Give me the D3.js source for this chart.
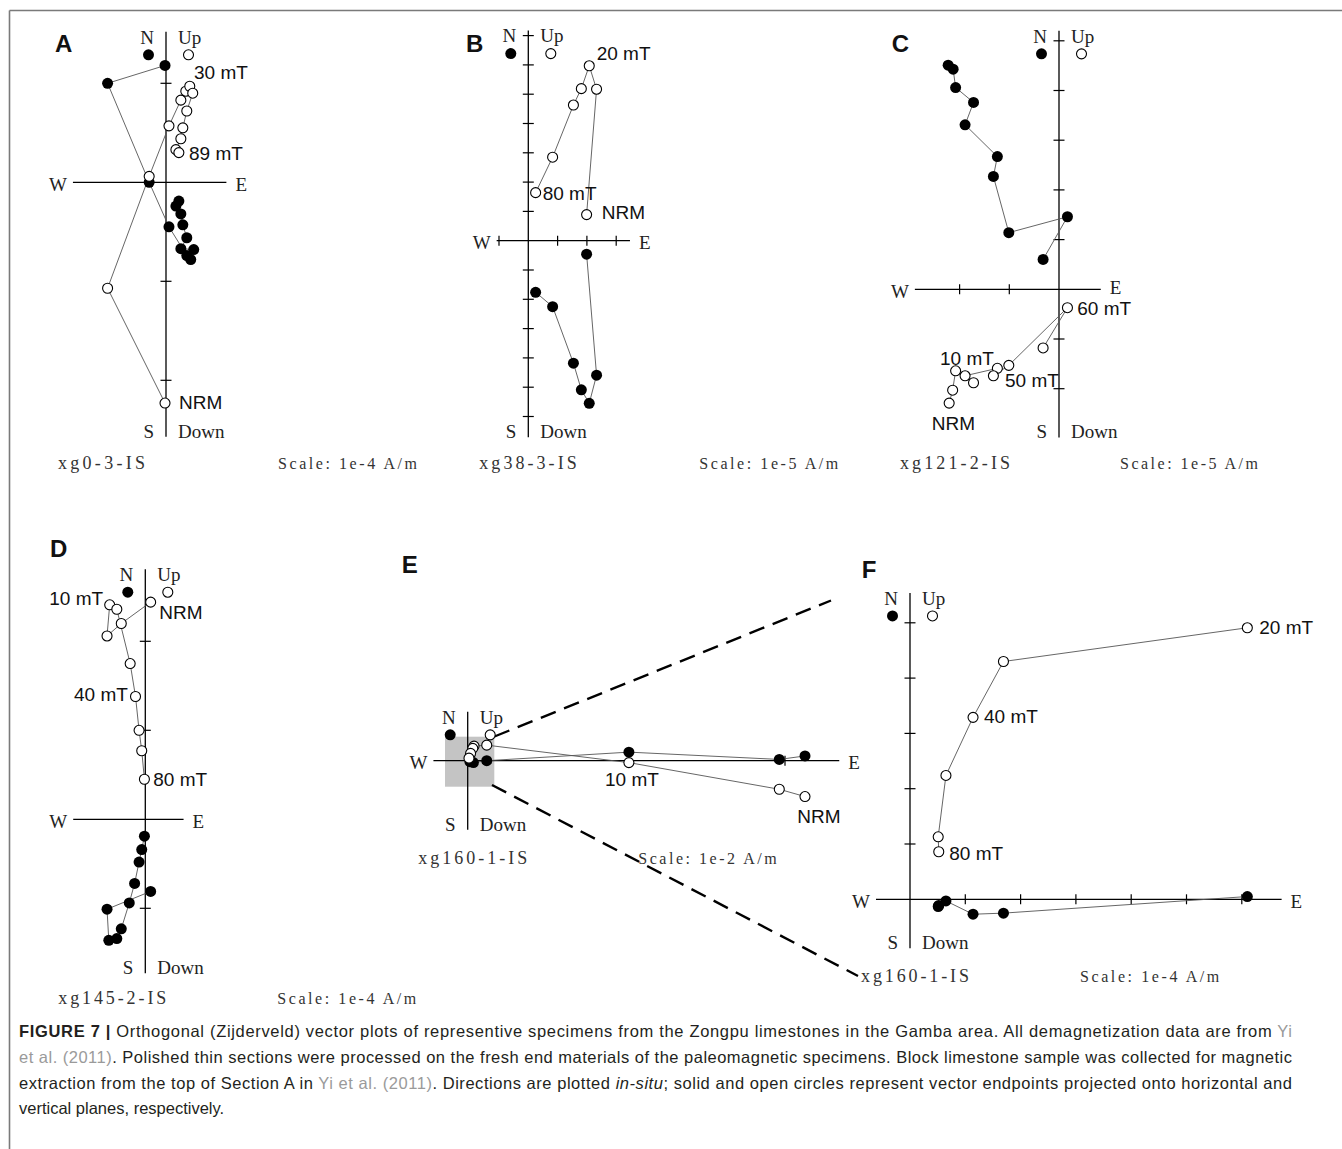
<!DOCTYPE html>
<html>
<head>
<meta charset="utf-8">
<script src="https://cdn.jsdelivr.net/npm/d3@7"></script>
<style>
  body { margin: 0; background: #fff; }
  svg { display: block; }
</style>
</head>
<body>
<svg id="fig" width="1342" height="1149"></svg>
<script>
// values are in units of each specimen's scale bar (one tick)
// hor = [east, north] (solid), ver = [east, up] (open)
const aHor = [[-0.01,1.18],[-0.59,1.00],[-0.17,0.00],[0.03,-0.45],[0.21,-0.74],[0.25,-0.78],[0.28,-0.68],[0.15,-0.67],[0.21,-0.56],[0.17,-0.43],[0.15,-0.32],[0.10,-0.24],[0.13,-0.19]];
const aVer = [[-0.01,-2.23],[-0.59,-1.07],[-0.17,0.06],[0.03,0.57],[0.15,0.83],[0.20,0.92],[0.24,0.97],[0.27,0.90],[0.21,0.72],[0.17,0.55],[0.15,0.44],[0.10,0.33],[0.13,0.30]];

const bHor = [[1.99,-0.46],[2.33,-4.59],[2.08,-5.55],[1.81,-5.09],[1.54,-4.18],[0.83,-2.25],[0.25,-1.76]];
const bVer = [[1.99,0.89],[2.33,5.17],[2.08,5.97],[1.81,5.19],[1.54,4.63],[0.83,2.85],[0.25,1.64]];

const cHor = [[-2.23,4.51],[-2.13,4.43],[-2.08,4.06],[-1.72,3.76],[-1.89,3.31],[-1.24,2.67],[-1.32,2.27],[-1.01,1.14],[0.17,1.46],[-0.32,0.60]];
const cVer = [[-2.21,-2.29],[-2.14,-2.03],[-2.08,-1.64],[-1.72,-1.88],[-1.89,-1.74],[-1.24,-1.59],[-1.32,-1.74],[-1.01,-1.53],[0.17,-0.37],[-0.32,-1.18]];

const dHor = [[-0.01,-0.19],[-0.04,-0.34],[-0.07,-0.48],[-0.12,-0.72],[-0.18,-0.94],[-0.27,-1.23],[-0.32,-1.34],[-0.41,-1.36],[-0.43,-1.01],[0.06,-0.81]];
const dVer = [[0.06,2.44],[-0.27,2.20],[-0.43,2.06],[-0.40,2.41],[-0.32,2.36],[-0.17,1.75],[-0.11,1.38],[-0.07,1.00],[-0.04,0.77],[-0.01,0.45]];

const eHor = [[1.063,0.015],[0.982,0.004],[0.508,0.027],[0.060,0.000],[0.018,-0.006],[0.007,-0.003]];
const eVer = [[1.063,-0.113],[0.982,-0.090],[0.508,-0.006],[0.060,0.049],[0.020,0.046],[0.016,0.039],[0.009,0.023],[0.004,0.008]];

const fHor = [[6.10,0.05],[1.69,-0.25],[1.14,-0.27],[0.65,-0.03],[0.51,-0.13],[0.52,-0.11]];
const fVer = [[6.10,4.91],[1.69,4.30],[1.14,3.29],[0.65,2.24],[0.51,1.13],[0.52,0.86]];

const specimens = ["xg0-3-IS", "xg38-3-IS", "xg121-2-IS", "xg145-2-IS", "xg160-1-IS", "xg160-1-IS"];
const scales = ["Scale: 1e-4 A/m", "Scale: 1e-5 A/m", "Scale: 1e-5 A/m", "Scale: 1e-4 A/m", "Scale: 1e-2 A/m", "Scale: 1e-4 A/m"];

const svg = d3.select("#fig");
const SERIF = "'Liberation Serif', 'DejaVu Serif', serif";
const SANS = "'Liberation Sans', Arial, sans-serif";

// frame
svg.append("line").attr("x1", 9.5).attr("x2", 1342).attr("y1", 10.5).attr("y2", 10.5).attr("stroke", "#7a7a7a").attr("stroke-width", 1.6);
svg.append("line").attr("x1", 9.5).attr("x2", 9.5).attr("y1", 10.5).attr("y2", 1149).attr("stroke", "#7a7a7a").attr("stroke-width", 1.6);

// zoom box + dashed guides between E and F
svg.append("rect").attr("x", 445).attr("y", 736.7).attr("width", 49.3).attr("height", 50).attr("fill", "#c4c4c4");
svg.append("line").attr("x1", 494.5).attr("y1", 736.5).attr("x2", 831).attr("y2", 600.5)
  .attr("stroke", "#000").attr("stroke-width", 2.4).attr("stroke-dasharray", "16,9");
svg.append("line").attr("x1", 492).attr("y1", 785).attr("x2", 858).attr("y2", 976)
  .attr("stroke", "#000").attr("stroke-width", 2.4).attr("stroke-dasharray", "16,9");

const panels = [
  {letter: "A", lx: 55, ly: 51.7, ox: 166, oy: 182.3, unit: 99, xExt: [-0.94, 0.61], yExt: [-2.57, 1.52],
   xTicks: [], yTicks: [1, -1, -2], hor: aHor, ver: aVer, eShift: 0,
   notes: [["30 mT", 194, 71.7], ["89 mT", 189, 153], ["NRM", 179, 401.7]],
   spec: [58, 469, 87], scale: [278, 469, 139]},
  {letter: "B", lx: 466, ly: 51.7, ox: 528.3, oy: 240.7, unit: 29.3, xExt: [-1.08, 3.47], yExt: [-6.71, 7.17],
   xTicks: [-1, 1, 2, 3], yTicks: [7, 6, 5, 4, 3, 2, 1, -1, -2, -3, -4, -5, -6], hor: bHor, ver: bVer, eShift: 0,
   notes: [["20 mT", 596.7, 53.3], ["80 mT", 542.7, 193], ["NRM", 601.7, 211.7]],
   spec: [479.3, 469, 97.4], scale: [699.3, 469, 139]},
  {letter: "C", lx: 891.7, ly: 51.7, ox: 1059, oy: 289.3, unit: 49.7, xExt: [-2.9, 0.84], yExt: [-2.98, 5.2],
   xTicks: [-1, -2], yTicks: [5, 4, 3, 2, 1, -1, -2], hor: cHor, ver: cVer, eShift: -4,
   notes: [["60 mT", 1077.3, 308.5], ["10 mT", 940, 358.3], ["50 mT", 1005, 380], ["NRM", 931.7, 422.7]],
   spec: [900, 469, 110], scale: [1120, 469, 138]},
  {letter: "D", lx: 50, ly: 556.7, ox: 145.3, oy: 819.3, unit: 89, xExt: [-0.81, 0.43], yExt: [-1.73, 2.81],
   xTicks: [], yTicks: [2, 1, -1], hor: dHor, ver: dVer, eShift: 0,
   notes: [["10 mT", 49.3, 598.3], ["NRM", 159.3, 611.7], ["40 mT", 74, 694.3], ["80 mT", 153.3, 779.3]],
   spec: [58.3, 1004, 108], scale: [277.3, 1004, 139]},
  {letter: "E", lx: 401.7, ly: 573.3, ox: 467.7, oy: 760.7, unit: 317.3, xExt: [-0.108, 1.171], yExt: [-0.218, 0.154],
   xTicks: [1], yTicks: [], hor: eHor, ver: eVer, eShift: 0,
   notes: [["10 mT", 605, 779.3], ["NRM", 797.3, 816]],
   spec: [418.3, 864, 109], scale: [638.3, 864, 138.4]},
  {letter: "F", lx: 861.7, ly: 578.3, ox: 910, oy: 899.3, unit: 55.3, xExt: [-0.615, 6.72], yExt: [-0.886, 5.54],
   xTicks: [1, 2, 3, 4, 5, 6], yTicks: [5, 4, 3, 2, 1], hor: fHor, ver: fVer, eShift: 0,
   notes: [["20 mT", 1259.3, 626.7], ["40 mT", 984, 715.7], ["80 mT", 949.3, 853.3]],
   spec: [861, 982, 108], scale: [1080, 982, 139.3]}
];

panels.forEach((p, i) => {
  const g = svg.append("g");
  const x = d3.scaleLinear().domain([0, 1]).range([p.ox, p.ox + p.unit]);
  const y = d3.scaleLinear().domain([0, 1]).range([p.oy, p.oy - p.unit]);
  const ax = x(0), ay = y(0);
  const top = y(p.yExt[1]), bot = y(p.yExt[0]), left = x(p.xExt[0]), right = x(p.xExt[1]);

  // axes
  g.append("line").attr("x1", left).attr("x2", right).attr("y1", ay).attr("y2", ay)
    .attr("stroke", "#000").attr("stroke-width", 1.3);
  g.append("line").attr("x1", ax).attr("x2", ax).attr("y1", top).attr("y2", bot)
    .attr("stroke", "#000").attr("stroke-width", 1.3);
  g.selectAll(".xt").data(p.xTicks).join("line")
    .attr("x1", d => x(d)).attr("x2", d => x(d)).attr("y1", ay - 5).attr("y2", ay + 5)
    .attr("stroke", "#000").attr("stroke-width", 1.2);
  g.selectAll(".yt").data(p.yTicks).join("line")
    .attr("y1", d => y(d)).attr("y2", d => y(d)).attr("x1", ax - 5.5).attr("x2", ax + 5.5)
    .attr("stroke", "#000").attr("stroke-width", 1.2);

  // direction labels
  const dir = [
    ["N", ax - 12, top + 5, "end"], ["Up", ax + 12, top + 5, "start"],
    ["S", ax - 12, bot - 6, "end"], ["Down", ax + 12, bot - 6, "start"],
    ["W", left - 6, ay + 1.5, "end"], ["E", right + 9, ay + 1.5 + p.eShift, "start"]
  ];
  g.selectAll(".dir").data(dir).join("text")
    .attr("x", d => d[1]).attr("y", d => d[2]).attr("dy", "0.36em")
    .attr("text-anchor", d => d[3])
    .attr("font-family", SERIF).attr("font-size", 19).attr("fill", "#222")
    .text(d => d[0]);

  // legend markers
  g.append("circle").attr("cx", ax - 17.5).attr("cy", top + 23).attr("r", 5.5).attr("fill", "#000");
  g.append("circle").attr("cx", ax + 22.5).attr("cy", top + 23).attr("r", 5).attr("fill", "#fff")
    .attr("stroke", "#000").attr("stroke-width", 1.1);

  // demagnetization paths
  const line = d3.line().x(d => x(d[0])).y(d => y(d[1]));
  g.append("path").attr("d", line(p.hor)).attr("fill", "none").attr("stroke", "#555").attr("stroke-width", 0.9);
  g.append("path").attr("d", line(p.ver)).attr("fill", "none").attr("stroke", "#555").attr("stroke-width", 0.9);
  g.selectAll(".hp").data(p.hor).join("circle")
    .attr("cx", d => x(d[0])).attr("cy", d => y(d[1])).attr("r", 5.5).attr("fill", "#000");
  g.selectAll(".vp").data(p.ver).join("circle")
    .attr("cx", d => x(d[0])).attr("cy", d => y(d[1])).attr("r", 5).attr("fill", "#fff")
    .attr("stroke", "#000").attr("stroke-width", 1.1);

  // step annotations
  g.selectAll(".note").data(p.notes).join("text")
    .attr("x", d => d[1]).attr("y", d => d[2]).attr("dy", "0.36em")
    .attr("font-family", SANS).attr("font-size", 19).attr("fill", "#111")
    .text(d => d[0]);

  // panel letter
  g.append("text").attr("x", p.lx).attr("y", p.ly)
    .attr("font-family", SANS).attr("font-weight", "bold").attr("font-size", 24).attr("fill", "#111")
    .text(p.letter);

  // specimen name and scale
  g.append("text").attr("x", p.spec[0]).attr("y", p.spec[1])
    .attr("textLength", p.spec[2]).attr("lengthAdjust", "spacing")
    .attr("font-family", SERIF).attr("font-size", 18).attr("fill", "#333")
    .text(specimens[i]);
  g.append("text").attr("x", p.scale[0]).attr("y", p.scale[1])
    .attr("textLength", p.scale[2]).attr("lengthAdjust", "spacing")
    .attr("font-family", SERIF).attr("font-size", 16).attr("fill", "#333")
    .text(scales[i]);
});

// caption
const GRAY = "#9a9a9a", TXT = "#231f20";
const captionLines = [
  [["FIGURE 7 | ", "b"], ["Orthogonal (Zijderveld) vector plots of representive specimens from the Zongpu limestones in the Gamba area. All demagnetization data are from ", ""], ["Yi", "g"]],
  [["et al. (2011)", "g"], [". Polished thin sections were processed on the fresh end materials of the paleomagnetic specimens. Block limestone sample was collected for magnetic", ""]],
  [["extraction from the top of Section A in ", ""], ["Yi et al. (2011)", "g"], [". Directions are plotted ", ""], ["in-situ", "i"], ["; solid and open circles represent vector endpoints projected onto horizontal and", ""]],
  [["vertical planes, respectively.", ""]]
];
const capY = [1037, 1063, 1089, 1114];
captionLines.forEach((parts, i) => {
  const t = svg.append("text").attr("x", 19).attr("y", capY[i])
    .attr("font-family", SANS).attr("font-size", 16.5).attr("fill", TXT);
  if (i < 3) t.attr("textLength", 1273).attr("lengthAdjust", "spacing");
  parts.forEach(([s, st]) => {
    const ts = t.append("tspan").text(s);
    if (st === "b") ts.attr("font-weight", "bold");
    if (st === "g") ts.attr("fill", GRAY);
    if (st === "i") ts.attr("font-style", "italic");
  });
});
</script>
</body>
</html>
